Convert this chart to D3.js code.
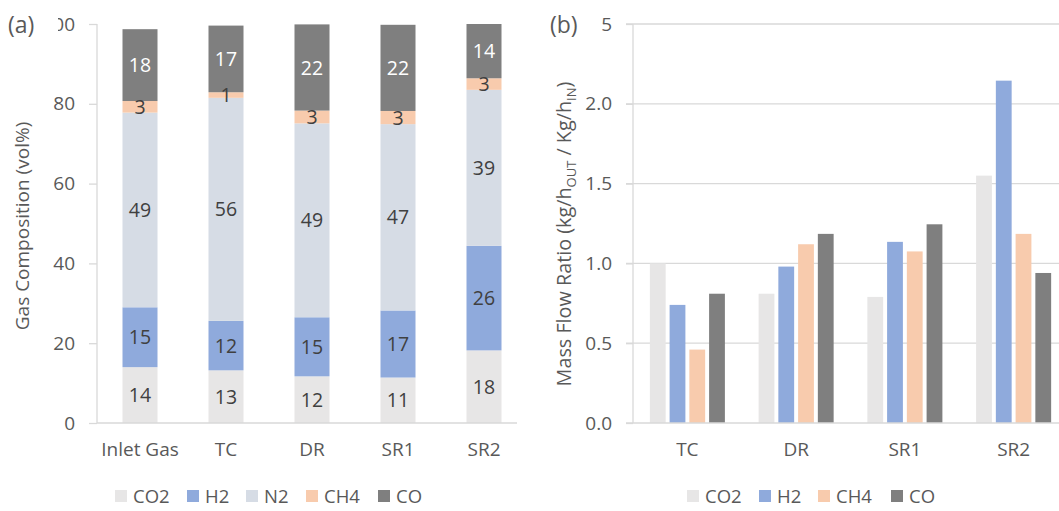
<!DOCTYPE html>
<html><head><meta charset="utf-8">
<script src="https://cdn.jsdelivr.net/npm/d3@7"></script>
<style>
html,body{margin:0;padding:0;background:#fff;}
svg{display:block;font-family:"Open Sans", sans-serif;}
</style></head>
<body><svg id="c" width="1059" height="511"></svg>
<script>
// ---- Panel (a) data: gas composition (vol%) ----
const catsA = ["Inlet Gas", "TC", "DR", "SR1", "SR2"];
const seriesA = ["CO2", "H2", "N2", "CH4", "CO"];
const CO2_A = [14.0, 13.2, 11.7, 11.4, 18.2];
const H2_A  = [15.0, 12.4, 14.8, 16.8, 26.2];
const N2_A  = [48.8, 55.9, 48.6, 46.7, 39.1];
const CH4_A = [2.9, 1.4, 3.2, 3.3, 2.9];
const CO_A  = [18.0, 16.7, 21.6, 21.6, 13.6];
const ticksA = [0, 20, 40, 60, 80, 100];

// ---- Panel (b) data: mass flow ratio ----
const catsB = ["TC", "DR", "SR1", "SR2"];
const seriesB = ["CO2", "H2", "CH4", "CO"];
const CO2_B = [1.00, 0.81, 0.79, 1.55];
const H2_B  = [0.74, 0.98, 1.135, 2.145];
const CH4_B = [0.46, 1.12, 1.075, 1.185];
const CO_B  = [0.81, 1.185, 1.245, 0.94];
const ticksB = [0, 0.5, 1.0, 1.5, 2.0, 2.5];

const colors = {CO2:"#e7e6e6", H2:"#8faadc", N2:"#d6dce5", CH4:"#f8cbad", CO:"#7f7f7f"};
const txt = "#595959", axisCol = "#d9d9d9";
const FS = 19;

const svg = d3.select("#c");

// ================= Panel (a) =================
const tableA = catsA.map((c,i)=>({cat:c, CO2:CO2_A[i], H2:H2_A[i], N2:N2_A[i], CH4:CH4_A[i], CO:CO_A[i]}));
const stackA = d3.stack().keys(seriesA)(tableA);
const xA = d3.scaleBand().domain(catsA).range([97, 527]).paddingInner(0.593).paddingOuter(0.2965);
const yA = d3.scaleLinear().domain([0, 100]).range([423, 24]);
const gA = svg.append("g");

stackA.forEach(layer=>{
  gA.selectAll(null).data(layer).enter().append("rect")
    .attr("x", d=>xA(d.data.cat)).attr("width", xA.bandwidth())
    .attr("y", d=>yA(d[1])).attr("height", d=>yA(d[0])-yA(d[1]))
    .attr("fill", colors[layer.key]);
});
stackA.forEach(layer=>{
  gA.selectAll(null).data(layer).enter().append("text")
    .attr("x", d=>xA(d.data.cat)+xA.bandwidth()/2)
    .attr("y", d=>yA((d[0]+d[1])/2))
    .attr("dy", "0.36em").attr("text-anchor","middle")
    .attr("font-size", 19.5)
    .attr("fill", layer.key==="CO" ? "#ffffff" : "#404040")
    .text(d=>Math.round(d[1]-d[0]));
});

// y axis (a)
const axA = gA.append("g").attr("transform","translate(97,0)")
  .call(d3.axisLeft(yA).tickValues(ticksA).tickSize(8).tickPadding(14).tickFormat(d3.format("d")));
axA.select(".domain").attr("stroke", axisCol).attr("stroke-width",1.3).attr("d","M0,24V423");
axA.selectAll(".tick line").attr("stroke", axisCol).attr("stroke-width",1.3);
axA.selectAll(".tick text").attr("fill", txt).attr("font-size", FS).attr("font-family","Open Sans");
// x axis (a)
const axAx = gA.append("g").attr("transform","translate(0,423)")
  .call(d3.axisBottom(xA).tickSize(0).tickPadding(20));
axAx.select(".domain").attr("stroke", axisCol).attr("stroke-width",1.5).attr("d","M97,0H517");
axAx.selectAll(".tick text").attr("fill", txt).attr("font-size", FS).attr("font-family","Open Sans");

// title (a)
gA.append("text").attr("transform","translate(29,226) rotate(-90)")
  .attr("text-anchor","middle").attr("fill", txt).attr("font-size",FS)
  .text("Gas Composition (vol%)");

// legend (a)
const legA = [{k:"CO2",x:115},{k:"H2",x:187},{k:"N2",x:246},{k:"CH4",x:306},{k:"CO",x:378}];
legA.forEach(l=>{
  gA.append("rect").attr("x",l.x).attr("y",490).attr("width",12).attr("height",12).attr("fill",colors[l.k]);
  gA.append("text").attr("x",l.x+18).attr("y",503).attr("fill",txt).attr("font-size",18.5).text(l.k);
});

// ================= Panel (b) =================
const xB = d3.scaleBand().domain(catsB).range([633, 1068]).paddingInner(0.31).paddingOuter(0.155);
const xBi = d3.scaleBand().domain(seriesB).range([0, xB.bandwidth()]).paddingInner(0.2);
const yB = d3.scaleLinear().domain([0, 2.5]).range([423, 24]);
const valsB = {CO2:CO2_B, H2:H2_B, CH4:CH4_B, CO:CO_B};
const gB = svg.append("g");

// gridlines
gB.selectAll(null).data(ticksB.slice(1)).enter().append("line")
  .attr("x1",626).attr("x2",1059).attr("y1",d=>yB(d)).attr("y2",d=>yB(d))
  .attr("stroke", axisCol).attr("stroke-width",1.3);

const axB = gB.append("g").attr("transform","translate(633,0)")
  .call(d3.axisLeft(yB).tickValues(ticksB).tickSize(7).tickPadding(14).tickFormat(d3.format(".1f")));
axB.select(".domain").attr("stroke", axisCol).attr("stroke-width",1.3).attr("d","M0,24V423");
axB.selectAll(".tick line").attr("stroke", axisCol).attr("stroke-width",1.3);
axB.selectAll(".tick text").attr("fill", txt).attr("font-size", FS).attr("font-family","Open Sans");

catsB.forEach((c,i)=>{
  seriesB.forEach(s=>{
    const v = valsB[s][i];
    gB.append("rect").attr("x", xB(c)+xBi(s)).attr("width", xBi.bandwidth())
      .attr("y", yB(v)).attr("height", yB(0)-yB(v)).attr("fill", colors[s]);
  });
});

const axBx = gB.append("g").attr("transform","translate(0,423)")
  .call(d3.axisBottom(xB).tickSize(0).tickPadding(20));
axBx.select(".domain").attr("stroke", axisCol).attr("stroke-width",1.5).attr("d","M626,0H1059");
axBx.selectAll(".tick text").attr("fill", txt).attr("font-size", FS).attr("font-family","Open Sans");

// title (b)
const tB = gB.append("text").attr("transform","translate(571,234) rotate(-90)")
  .attr("text-anchor","middle").attr("fill", txt).attr("font-size",19.8);
tB.append("tspan").text("Mass Flow Ratio (kg/h");
tB.append("tspan").attr("font-size",13).attr("dy",4.5).text("OUT");
tB.append("tspan").attr("dy",-4.5).text(" / Kg/h");
tB.append("tspan").attr("font-size",13).attr("dy",4.5).text("IN");
tB.append("tspan").attr("dy",-4.5).text(")");

// legend (b)
const legB = [{k:"CO2",x:687},{k:"H2",x:759},{k:"CH4",x:818},{k:"CO",x:891}];
legB.forEach(l=>{
  gB.append("rect").attr("x",l.x).attr("y",490).attr("width",12).attr("height",12).attr("fill",colors[l.k]);
  gB.append("text").attr("x",l.x+18).attr("y",503).attr("fill",txt).attr("font-size",18.5).text(l.k);
});

// cropped corners with panel letters
svg.append("rect").attr("x",0).attr("y",8).attr("width",58).attr("height",32).attr("fill","#fff");
svg.append("rect").attr("x",540).attr("y",8).attr("width",61).attr("height",32).attr("fill","#fff");
svg.append("text").attr("x",8).attr("y",33).attr("fill",txt).attr("font-size",23).text("(a)");
svg.append("text").attr("x",550).attr("y",33).attr("fill",txt).attr("font-size",23).text("(b)");
</script></body></html>
